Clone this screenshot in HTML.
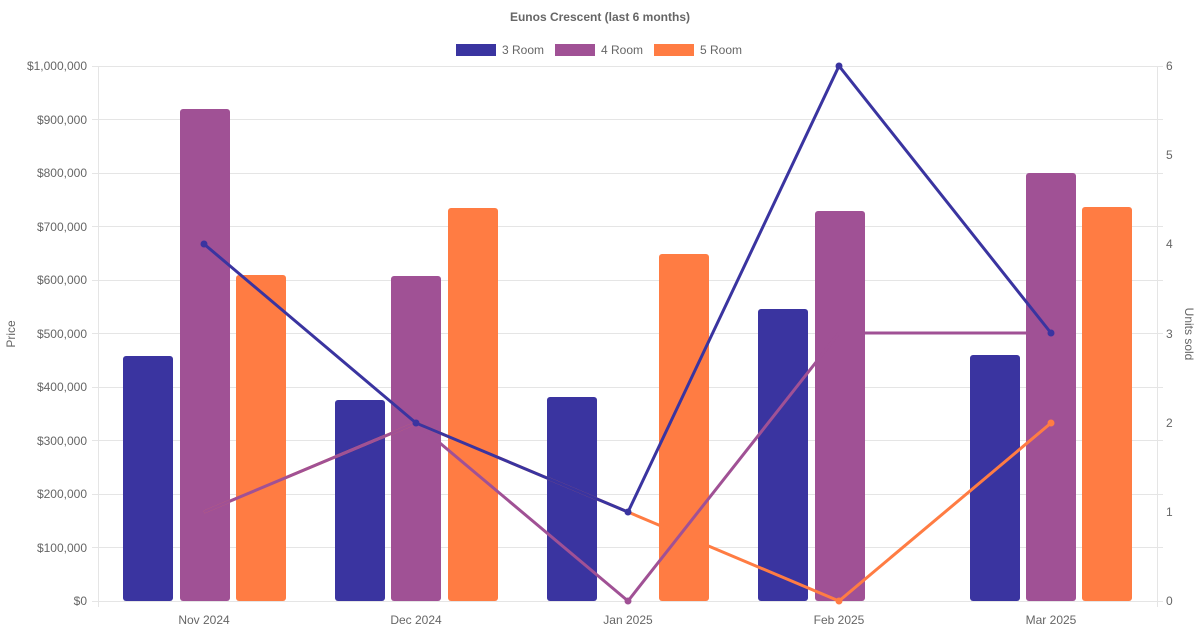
<!DOCTYPE html>
<html><head><meta charset="utf-8"><style>
body{margin:0;background:#fff;font-family:"Liberation Sans",sans-serif}
</style></head><body>
<svg width="1200" height="630" xmlns="http://www.w3.org/2000/svg" font-family="Liberation Sans, sans-serif">
<text x="600" y="21" text-anchor="middle" font-size="12" font-weight="bold" fill="#666">Eunos Crescent (last 6 months)</text>
<rect x="456" y="44" width="40" height="12" fill="#3a34a0"/><text x="502" y="54" font-size="12" fill="#666">3 Room</text>
<rect x="555" y="44" width="40" height="12" fill="#a05195"/><text x="601" y="54" font-size="12" fill="#666">4 Room</text>
<rect x="654" y="44" width="40" height="12" fill="#ff7c43"/><text x="700" y="54" font-size="12" fill="#666">5 Room</text>
<g stroke="#e5e5e5" stroke-width="1">
<line x1="92" x2="1163" y1="66.5" y2="66.5"/><line x1="92" x2="1163" y1="119.5" y2="119.5"/><line x1="92" x2="1163" y1="173.5" y2="173.5"/><line x1="92" x2="1163" y1="226.5" y2="226.5"/><line x1="92" x2="1163" y1="280.5" y2="280.5"/><line x1="92" x2="1163" y1="333.5" y2="333.5"/><line x1="92" x2="1163" y1="387.5" y2="387.5"/><line x1="92" x2="1163" y1="440.5" y2="440.5"/><line x1="92" x2="1163" y1="494.5" y2="494.5"/><line x1="92" x2="1163" y1="547.5" y2="547.5"/><line x1="92" x2="1163" y1="601.5" y2="601.5"/>
<line x1="98.5" x2="98.5" y1="66" y2="607"/><line x1="1157.5" x2="1157.5" y1="66" y2="607"/>
</g>
<g font-size="12" fill="#666" text-anchor="end">
<text x="87" y="70">$1,000,000</text><text x="87" y="124">$900,000</text><text x="87" y="177">$800,000</text><text x="87" y="231">$700,000</text><text x="87" y="284">$600,000</text><text x="87" y="338">$500,000</text><text x="87" y="391">$400,000</text><text x="87" y="445">$300,000</text><text x="87" y="498">$200,000</text><text x="87" y="552">$100,000</text><text x="87" y="605">$0</text>
</g>
<g font-size="12" fill="#666">
<text x="1166" y="70">6</text><text x="1166" y="159">5</text><text x="1166" y="248">4</text><text x="1166" y="338">3</text><text x="1166" y="427">2</text><text x="1166" y="516">1</text><text x="1166" y="605">0</text>
</g>
<g font-size="12" fill="#666" text-anchor="middle">
<text x="204" y="624">Nov 2024</text><text x="416" y="624">Dec 2024</text><text x="628" y="624">Jan 2025</text><text x="839" y="624">Feb 2025</text><text x="1051" y="624">Mar 2025</text>
</g>
<text transform="translate(15,334) rotate(-90)" text-anchor="middle" font-size="12" fill="#666">Price</text>
<text transform="translate(1185,334) rotate(90)" text-anchor="middle" font-size="12" fill="#666">Units sold</text>
<g fill="#3a34a0">
<rect x="123" y="356" width="50" height="245" rx="3"/><rect x="335" y="400" width="50" height="201" rx="3"/><rect x="547" y="397" width="50" height="204" rx="3"/><rect x="758" y="309" width="50" height="292" rx="3"/><rect x="970" y="355" width="50" height="246" rx="3"/>
</g>
<g fill="#a05195">
<rect x="180" y="109" width="50" height="492" rx="3"/><rect x="391" y="276" width="50" height="325" rx="3"/><rect x="815" y="211" width="50" height="390" rx="3"/><rect x="1026" y="173" width="50" height="428" rx="3"/>
</g>
<g fill="#ff7c43">
<rect x="236" y="275" width="50" height="326" rx="3"/><rect x="448" y="208" width="50" height="393" rx="3"/><rect x="659" y="254" width="50" height="347" rx="3"/><rect x="1082" y="207" width="50" height="394" rx="3"/>
</g>
<polyline points="204,512 416,423 628,512 839,601 1051,423" fill="none" stroke="#ff7c43" stroke-width="3"/>
<polyline points="204,512 416,423 628,601 839,333 1051,333" fill="none" stroke="#a05195" stroke-width="3"/>
<polyline points="204,244 416,423 628,512 839,66 1051,333" fill="none" stroke="#3a34a0" stroke-width="3"/>
<g fill="#ff7c43"><circle cx="839" cy="601" r="3.5"/><circle cx="1051" cy="423" r="3.5"/></g>
<g fill="#a05195"><circle cx="628" cy="601" r="3.5"/></g>
<g fill="#3a34a0"><circle cx="204" cy="244" r="3.5"/><circle cx="416" cy="423" r="3.5"/><circle cx="628" cy="512" r="3.5"/><circle cx="839" cy="66" r="3.5"/><circle cx="1051" cy="333" r="3.5"/></g>
</svg>
</body></html>
